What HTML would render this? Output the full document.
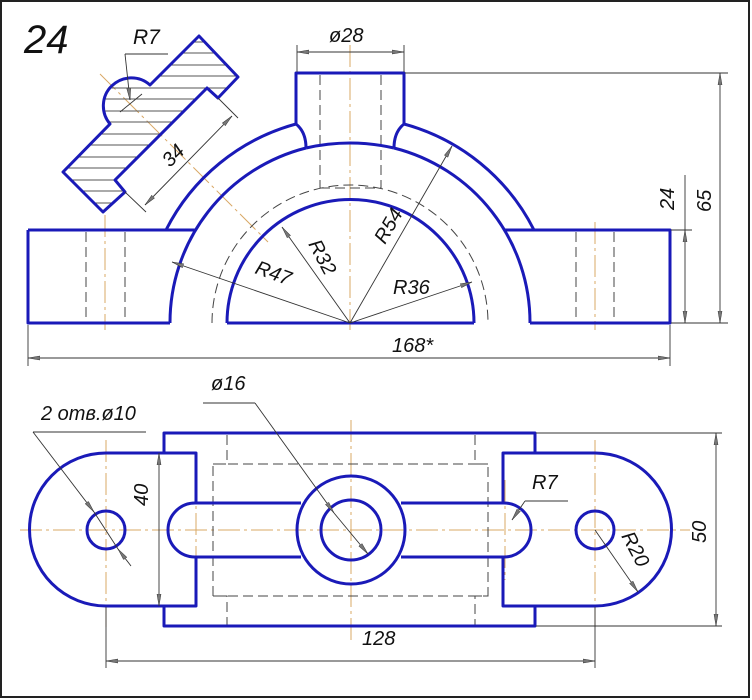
<!DOCTYPE html>
<html><head><meta charset="utf-8"><style>
html,body{margin:0;padding:0;background:#fff}
svg{display:block}
text{font-family:"Liberation Sans",sans-serif;font-style:italic;fill:#111}
</style></head><body>
<svg width="752" height="700" viewBox="0 0 752 700" xmlns="http://www.w3.org/2000/svg">
<defs>
<clipPath id="sec"><path d="M199,36 L238,77 L218,98 L207,88 L115,180 L125,192 L103,212 L63,172 L110,124 A28,28 0 0 1 150,85 Z"/></clipPath>
<marker id="ar" viewBox="0 0 12 6" refX="12" refY="3" markerWidth="12" markerHeight="6" orient="auto" markerUnits="userSpaceOnUse"><path d="M0,1 L12,3 L0,5 Z" fill="#777" stroke="#333" stroke-width="0.5"/></marker>
<marker id="as" viewBox="0 0 12 6" refX="0" refY="3" markerWidth="12" markerHeight="6" orient="auto" markerUnits="userSpaceOnUse"><path d="M12,1 L0,3 L12,5 Z" fill="#777" stroke="#333" stroke-width="0.5"/></marker>
</defs>
<rect x="1" y="1" width="748" height="696" fill="#fff" stroke="#222" stroke-width="2"/>

<!-- centerlines orange -->
<g stroke="#d9a866" stroke-width="1" fill="none" stroke-dasharray="22,4,3,4">
<line x1="350" y1="45" x2="350" y2="330"/>
<line x1="230" y1="323" x2="470" y2="323"/>
<line x1="105" y1="215" x2="105" y2="330"/>
<line x1="595" y1="222" x2="595" y2="330"/>
<line x1="100" y1="74" x2="268" y2="242"/>
<line x1="20" y1="530" x2="690" y2="530"/>
<line x1="351" y1="420" x2="351" y2="640"/>
<line x1="106" y1="440" x2="106" y2="630"/>
<line x1="595" y1="440" x2="595" y2="630"/>
<line x1="196" y1="480" x2="196" y2="580"/>
<line x1="505" y1="480" x2="505" y2="580"/>
</g>

<!-- hatching -->
<g clip-path="url(#sec)" stroke="#555" stroke-width="1">
<line x1="40" y1="42" x2="260" y2="42"/><line x1="40" y1="53" x2="260" y2="53"/><line x1="40" y1="65" x2="260" y2="65"/><line x1="40" y1="76" x2="260" y2="76"/><line x1="40" y1="88" x2="260" y2="88"/><line x1="40" y1="99" x2="260" y2="99"/><line x1="40" y1="111" x2="260" y2="111"/><line x1="40" y1="122" x2="260" y2="122"/><line x1="40" y1="134" x2="260" y2="134"/><line x1="40" y1="145" x2="260" y2="145"/><line x1="40" y1="157" x2="260" y2="157"/><line x1="40" y1="168" x2="260" y2="168"/><line x1="40" y1="180" x2="260" y2="180"/><line x1="40" y1="191" x2="260" y2="191"/><line x1="40" y1="203" x2="260" y2="203"/>
</g>

<!-- hidden lines -->
<g stroke="#444" stroke-width="1" fill="none" stroke-dasharray="10,5">
<line x1="320" y1="75" x2="320" y2="188"/><line x1="381" y1="75" x2="381" y2="188"/>
<line x1="320" y1="188" x2="381" y2="188"/>
<path d="M212,323 A138,138 0 0 1 488,323"/>
<line x1="86" y1="232" x2="86" y2="322"/><line x1="125" y1="232" x2="125" y2="322"/>
<line x1="576" y1="232" x2="576" y2="322"/><line x1="614" y1="232" x2="614" y2="322"/>
<path d="M227,435 V464 H213 V596 H227 V625"/>
<path d="M475,435 V464 H488 V596 H475 V625"/>
<line x1="213" y1="464" x2="488" y2="464"/><line x1="213" y1="596" x2="488" y2="596"/>
</g>

<!-- main outlines -->
<g stroke="#1a1ab8" stroke-width="3" fill="none" stroke-linejoin="round">
<path d="M199,36 L238,77 L218,98 L207,88 L115,180 L125,192 L103,212 L63,172 L110,124 A28,28 0 0 1 150,85 Z"/>
<!-- top view -->
<path d="M28,230 H196 M28,230 V323 H170 M227,323 H474 M530,323 H670 V230 H504"/>
<path d="M170,323 A180,180 0 0 1 306,148"/>
<path d="M394,148 A180,180 0 0 1 530,323"/>
<path d="M306,148 Q350,138 394,148"/>
<path d="M227,323 A123,123 0 0 1 474,323"/>
<path d="M166,230 A206,206 0 0 1 296,124 M404,124 A206,206 0 0 1 534,230"/>
<path d="M296,124 V73 H404 V124"/>
<path d="M296,124 Q306,132 306,148 M404,124 Q394,132 394,148"/>
<!-- bottom view -->
<path d="M164,453 V433 H535 V453 M164,606 V626 H535 V606"/>
<path d="M196,503 V453 H106 A76,76 0 0 0 106,606 H196 V557"/>
<path d="M503,503 V453 H595 A76,76 0 0 1 595,606 H503 V557"/>
<path d="M301,503 H195 A27,27 0 0 0 195,557 H301"/>
<path d="M401,503 H504 A27,27 0 0 1 504,557 H401"/>
<circle cx="351" cy="530" r="54"/>
<circle cx="351" cy="530" r="30"/>
<circle cx="106" cy="530" r="19"/>
<circle cx="595" cy="530" r="19"/>
</g>

<!-- dimension lines -->
<g stroke="#333" stroke-width="0.9" fill="none">
<!-- phi28 -->
<line x1="297" y1="45" x2="297" y2="72"/><line x1="404" y1="45" x2="404" y2="72"/>
<line x1="297" y1="52" x2="404" y2="52" marker-start="url(#as)" marker-end="url(#ar)"/>
<!-- 65 / 24 -->
<line x1="405" y1="73" x2="728" y2="73"/><line x1="671" y1="230" x2="692" y2="230"/><line x1="671" y1="323" x2="728" y2="323"/>
<line x1="720" y1="73" x2="720" y2="323" marker-start="url(#as)" marker-end="url(#ar)"/>
<line x1="685" y1="175" x2="685" y2="230"/>
<line x1="685" y1="230" x2="685" y2="323" marker-start="url(#as)" marker-end="url(#ar)"/>
<!-- 168 -->
<line x1="28" y1="325" x2="28" y2="366"/><line x1="670" y1="325" x2="670" y2="366"/>
<line x1="28" y1="358" x2="670" y2="358" marker-start="url(#as)" marker-end="url(#ar)"/>
<!-- radii -->
<line x1="350" y1="323" x2="172" y2="262" marker-end="url(#ar)"/>
<line x1="350" y1="323" x2="282" y2="227" marker-end="url(#ar)"/>
<line x1="350" y1="323" x2="452" y2="146" marker-end="url(#ar)"/>
<line x1="350" y1="323" x2="472" y2="282" marker-end="url(#ar)"/>
<!-- section dims -->
<line x1="125" y1="54" x2="168" y2="54"/>
<line x1="125" y1="54" x2="130" y2="100" marker-end="url(#ar)"/>
<line x1="120" y1="112" x2="142" y2="94"/>
<line x1="218" y1="98" x2="238" y2="118"/><line x1="125" y1="192" x2="146" y2="212"/>
<line x1="232" y1="116" x2="145" y2="205" marker-start="url(#as)" marker-end="url(#ar)"/>
<!-- 2 otv -->
<line x1="33" y1="432" x2="146" y2="432"/>
<line x1="33" y1="432" x2="94" y2="512" marker-end="url(#ar)"/>
<line x1="131" y1="566" x2="118" y2="549" marker-end="url(#ar)"/>
<line x1="94" y1="512" x2="118" y2="549"/>
<!-- 40 -->
<line x1="159" y1="453" x2="159" y2="606" marker-start="url(#as)" marker-end="url(#ar)"/>
<!-- phi16 -->
<line x1="203" y1="403" x2="255" y2="403"/>
<line x1="255" y1="403" x2="334" y2="513" marker-end="url(#ar)"/>
<line x1="334" y1="513" x2="368" y2="554" marker-end="url(#ar)"/>
<!-- R7 -->
<line x1="525" y1="501" x2="568" y2="501"/>
<line x1="525" y1="501" x2="512" y2="520" marker-end="url(#ar)"/>
<!-- R20 -->
<line x1="595" y1="530" x2="638" y2="592" marker-end="url(#ar)"/>
<!-- 50 -->
<line x1="536" y1="433" x2="722" y2="433"/><line x1="536" y1="626" x2="722" y2="626"/>
<line x1="716" y1="433" x2="716" y2="626" marker-start="url(#as)" marker-end="url(#ar)"/>
<!-- 128 -->
<line x1="106" y1="607" x2="106" y2="668"/><line x1="595" y1="607" x2="595" y2="668"/>
<line x1="106" y1="661" x2="595" y2="661" marker-start="url(#as)" marker-end="url(#ar)"/>
</g>

<!-- text -->
<text x="24" y="53" font-size="40" font-style="italic">24</text>
<text x="133" y="44" font-size="21">R7</text>
<text x="329" y="42" font-size="20">ø28</text>
<text x="392" y="352" font-size="20">168*</text>
<text font-size="20" transform="translate(170,168) rotate(-45)">34</text>
<text font-size="20" transform="translate(254,273) rotate(20)">R47</text>
<text font-size="20" transform="translate(308,244) rotate(62)">R32</text>
<text font-size="20" transform="translate(385,245) rotate(-60)">R54</text>
<text x="393" y="294" font-size="20">R36</text>
<text font-size="20" transform="translate(674,210) rotate(-90)">24</text>
<text font-size="20" transform="translate(711,212) rotate(-90)">65</text>
<text x="41" y="420" font-size="20">2 отв.ø10</text>
<text x="211" y="390" font-size="20">ø16</text>
<text font-size="20" transform="translate(148,506) rotate(-90)">40</text>
<text x="532" y="489" font-size="20">R7</text>
<text font-size="20" transform="translate(621,536) rotate(62)">R20</text>
<text font-size="20" transform="translate(706,543) rotate(-90)">50</text>
<text x="362" y="645" font-size="20">128</text>
</svg>
</body></html>
